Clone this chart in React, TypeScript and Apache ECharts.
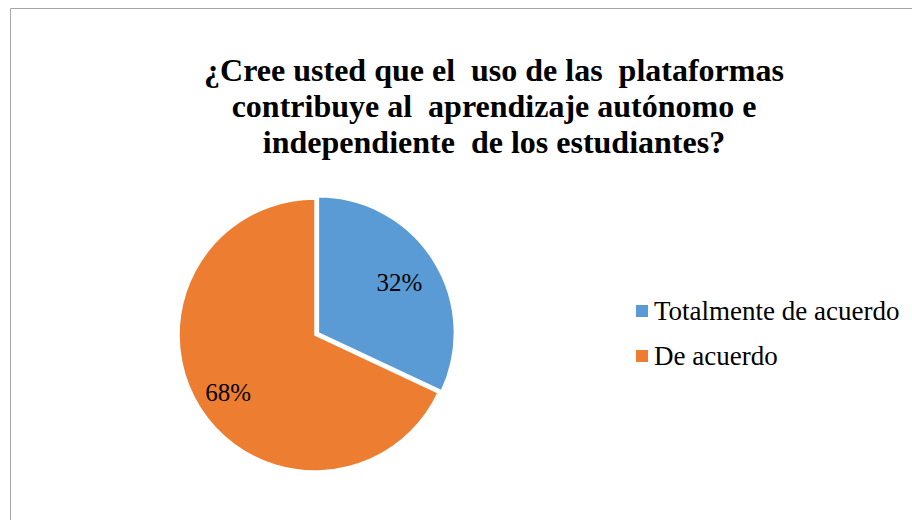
import React, { useEffect, useRef } from "react";
import * as echarts from "echarts";

const titleLines = [
  "¿Cree usted que el  uso de las  plataformas",
  "contribuye al  aprendizaje autónomo e",
  "independiente  de los estudiantes?",
];
const categories = ["Totalmente de acuerdo", "De acuerdo"];
const values = [32, 68];
const colors = ["#5B9BD5", "#ED7D31"];
const labelOffsets: [number, number][] = [
  [21, -12],
  [-27, 19],
];

export default function App() {
  const ref = useRef<HTMLDivElement>(null);
  useEffect(() => {
    if (!ref.current) return;
    const chart = echarts.init(ref.current, undefined, { renderer: "svg" });
    const font = "Liberation Serif";
    chart.setOption({
      animation: false,
      backgroundColor: "#ffffff",
      title: {
        text: titleLines.join("\n"),
        left: 494,
        top: 52,
        padding: 0,
        textAlign: "center",
        textStyle: {
          fontFamily: font,
          fontWeight: "bold",
          fontSize: 32,
          lineHeight: 36,
          color: "#000000",
        },
      },
      legend: {
        orient: "vertical",
        left: 634,
        top: 296,
        padding: 0,
        itemWidth: 14,
        itemHeight: 14,
        itemGap: 15,
        icon: "rect",
        data: categories,
        textStyle: {
          fontFamily: font,
          fontSize: 27,
          lineHeight: 30,
          color: "#000000",
        },
      },
      graphic: [
        {
          type: "rect",
          shape: { x: 10.5, y: 8.5, width: 1000, height: 1000 },
          style: { fill: "none", stroke: "#a6a6a6", lineWidth: 1 },
          silent: true,
        },
      ],
      series: [
        {
          type: "pie",
          center: [315, 335],
          radius: 136,
          startAngle: 90,
          clockwise: true,
          selectedMode: "multiple",
          selectedOffset: 4,
          itemStyle: { borderColor: "#ffffff", borderWidth: 1.5 },
          label: {
            show: true,
            position: "inside",
            formatter: "{d}%",
            fontFamily: font,
            fontSize: 25,
            color: "#000000",
          },
          labelLayout: (params: any) => ({
            dx: labelOffsets[params.dataIndex][0],
            dy: labelOffsets[params.dataIndex][1],
          }),
          labelLine: { show: false },
          emphasis: { disabled: true },
          data: categories.map((name, i) => ({
            name,
            value: values[i],
            selected: i === 0,
            itemStyle: { color: colors[i] },
          })),
        },
      ],
    });
    return () => chart.dispose();
  }, []);
  return (
    <div
      ref={ref}
      style={{ position: "fixed", left: 0, top: 0, width: 912, height: 520 }}
    />
  );
}
